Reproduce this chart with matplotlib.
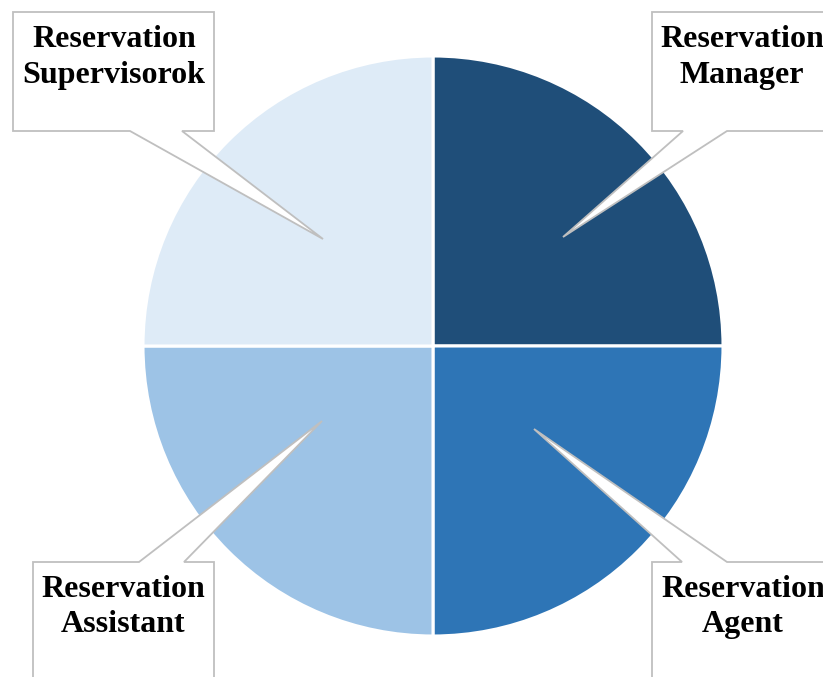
import matplotlib.pyplot as plt
from matplotlib.patches import Polygon

# slice data (equal shares, clockwise from 12 o'clock)
labels = ['Reservation Manager', 'Reservation Agent', 'Reservation Assistant', 'Reservation Supervisorok']
values = [25, 25, 25, 25]
colors = ['#1F4E79', '#2E75B6', '#9DC3E6', '#DEEBF7']

W, H = 823, 677
fig = plt.figure(figsize=(W / 100, H / 100), dpi=100)
ax = fig.add_axes([0, 0, 1, 1])

# pie placed in pixel space (y flipped so 0 is bottom)
ax.pie(values, colors=colors, startangle=90, counterclock=False,
       center=(433, H - 346), radius=290,
       wedgeprops=dict(edgecolor='white', linewidth=2.2))

ax.set_xlim(0, W)
ax.set_ylim(0, H)
ax.set_aspect('equal')
ax.axis('off')

# callouts: box (x0, y0, x1, y1) in pixels from top-left, pointer base x's and tip
callouts = [
    # label idx, box, pointer base, tip, pointer on bottom?
    (3, (13, 12, 214, 131), (130, 182), (323, 239), True),
    (0, (652, 12, 870, 131), (683, 727), (563, 237), True),
    (2, (33, 562, 214, 700), (139, 184), (322, 421), False),
    (1, (652, 562, 870, 700), (682, 727), (534, 429), False),
]
text_x = {3: 114, 0: 742, 2: 123, 1: 743}

def fy(y):
    return H - y

for idx, (x0, y0, x1, y1), (b0, b1), (tx, ty), bottom in callouts:
    if bottom:
        pts = [(x0, y0), (x1, y0), (x1, y1), (b1, y1), (tx, ty), (b0, y1), (x0, y1)]
        base1, base2 = 47, 83
    else:
        pts = [(x0, y0), (b0, y0), (tx, ty), (b1, y0), (x1, y0), (x1, y1), (x0, y1)]
        base1, base2 = 597, 632
    poly = Polygon([(px, fy(py)) for px, py in pts], closed=True,
                   facecolor='white', edgecolor='#BFBFBF', linewidth=1.3, zorder=5)
    ax.add_patch(poly)
    words = labels[idx].split(' ')
    for word, by in zip(words, (base1, base2)):
        ax.text(text_x[idx], fy(by), word, ha='center', va='baseline',
                fontsize=23, fontweight='bold', family='Liberation Serif',
                color='black', zorder=6)

fig.savefig('out.png', dpi=100)
